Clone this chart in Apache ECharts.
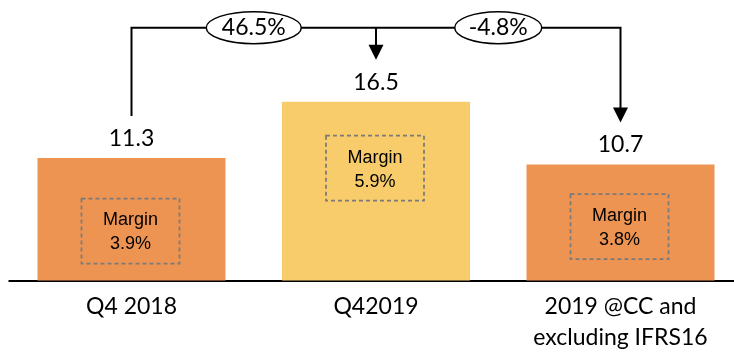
<!DOCTYPE html>
<html>
<head>
<meta charset="utf-8">
<script src="https://cdn.jsdelivr.net/npm/echarts@6/dist/echarts.min.js"></script>
<style>
  html, body { margin: 0; padding: 0; background: #fff; }
  #chart { width: 734px; height: 352px; }
</style>
</head>
<body>
<div id="chart"></div>
<script>
// Chart data
const categories = ['Q4 2018', 'Q42019', '2019 @CC and\nexcluding IFRS16'];
const values = [11.3, 16.5, 10.7];
const marginLabels = ['3.9%', '5.9%', '3.8%'];
const changeLabels = ['46.5%', '-4.8%'];

// Styling / layout
const barColors = ['#ED9453', '#F8CC6A', '#ED9453'];
const MAIN_FONT = 'Lato';
const BOX_FONT = 'Liberation Sans';
const CONNECTOR_Y = 27.7;          // height of the bracket line
const ARROW_GAP = 42;              // space between bracket ends and bar tops
const ARROW_SIZE = 15;
const ellipseRx = [47.5, 43.5];
const ELLIPSE_RY = 16;
const boxOffsets = [73, 66.5, 62.2]; // margin box centre below bar top
const BOX_W = 98, BOX_H = 65;

const chart = echarts.init(document.getElementById('chart'));

chart.setOption({
  animation: false,
  grid: { left: 9.25, width: 733.5, top: 9.5, bottom: 71.5, outerBoundsMode: 'none', containLabel: false },
  xAxis: {
    type: 'category',
    data: categories,
    axisLine: { lineStyle: { color: '#000', width: 2 } },
    axisTick: { show: false },
    axisLabel: {
      interval: 0, margin: 11, color: '#000',
      fontFamily: MAIN_FONT, fontSize: 23, lineHeight: 31
    }
  },
  yAxis: { type: 'value', min: 0, max: 25, show: false },
  series: [{
    type: 'bar',
    barWidth: 188,
    data: values.map((v, i) => ({ value: v, itemStyle: { color: barColors[i] } })),
    label: {
      show: true, position: 'top', distance: 8,
      color: '#000', fontFamily: MAIN_FONT, fontSize: 23, lineHeight: 23
    }
  }]
});

// Annotations positioned from the bars through the chart's own scales
const pts = values.map((v, i) => chart.convertToPixel({ seriesIndex: 0 }, [i, v]));
const graphics = [];
const lineStyle = { stroke: '#000', lineWidth: 2, fill: null };

function arrowHead(x, tip) {
  return {
    type: 'polygon', z: 10,
    shape: { points: [[x - ARROW_SIZE / 2, tip - ARROW_SIZE], [x + ARROW_SIZE / 2, tip - ARROW_SIZE], [x, tip]] },
    style: { fill: '#000' }
  };
}

const [p0, p1, p2] = pts;
const end0 = p0[1] - ARROW_GAP;
const tip1 = p1[1] - ARROW_GAP;
const tip2 = p2[1] - ARROW_GAP;

graphics.push({
  type: 'polyline', z: 10,
  shape: { points: [[p0[0], end0], [p0[0], CONNECTOR_Y], [p2[0], CONNECTOR_Y], [p2[0], tip2 - ARROW_SIZE + 1]] },
  style: lineStyle
});
graphics.push({
  type: 'line', z: 10,
  shape: { x1: p1[0], y1: CONNECTOR_Y, x2: p1[0], y2: tip1 - ARROW_SIZE + 1 },
  style: lineStyle
});
graphics.push(arrowHead(p1[0], tip1));
graphics.push(arrowHead(p2[0], tip2));

// Growth ellipses between neighbouring bars
changeLabels.forEach((txt, i) => {
  const cx = (pts[i][0] + pts[i + 1][0]) / 2;
  graphics.push({
    type: 'ellipse', z: 11,
    shape: { cx: cx, cy: CONNECTOR_Y, rx: ellipseRx[i], ry: ELLIPSE_RY },
    style: { fill: '#fff', stroke: '#000', lineWidth: 1.5 }
  });
  graphics.push({
    type: 'text', z: 12, x: cx, y: CONNECTOR_Y,
    style: {
      text: txt, fill: '#000', font: '23px ' + MAIN_FONT,
      align: 'center', verticalAlign: 'middle'
    }
  });
});

// Dashed margin boxes inside each bar
marginLabels.forEach((m, i) => {
  const cx = pts[i][0] - 1;
  const cy = pts[i][1] + boxOffsets[i];
  graphics.push({
    type: 'rect', z: 11,
    shape: { x: cx - BOX_W / 2, y: cy - BOX_H / 2, width: BOX_W, height: BOX_H },
    style: { fill: null, stroke: '#7A7A7A', lineWidth: 1.75, lineDash: [4, 3] }
  });
  graphics.push({
    type: 'text', z: 12, x: cx, y: cy + 1.5,
    style: {
      text: 'Margin\n' + m, fill: '#000',
      fontFamily: BOX_FONT, fontSize: 18, lineHeight: 24,
      align: 'center', verticalAlign: 'middle'
    }
  });
});

chart.setOption({ graphic: graphics });
</script>
</body>
</html>
